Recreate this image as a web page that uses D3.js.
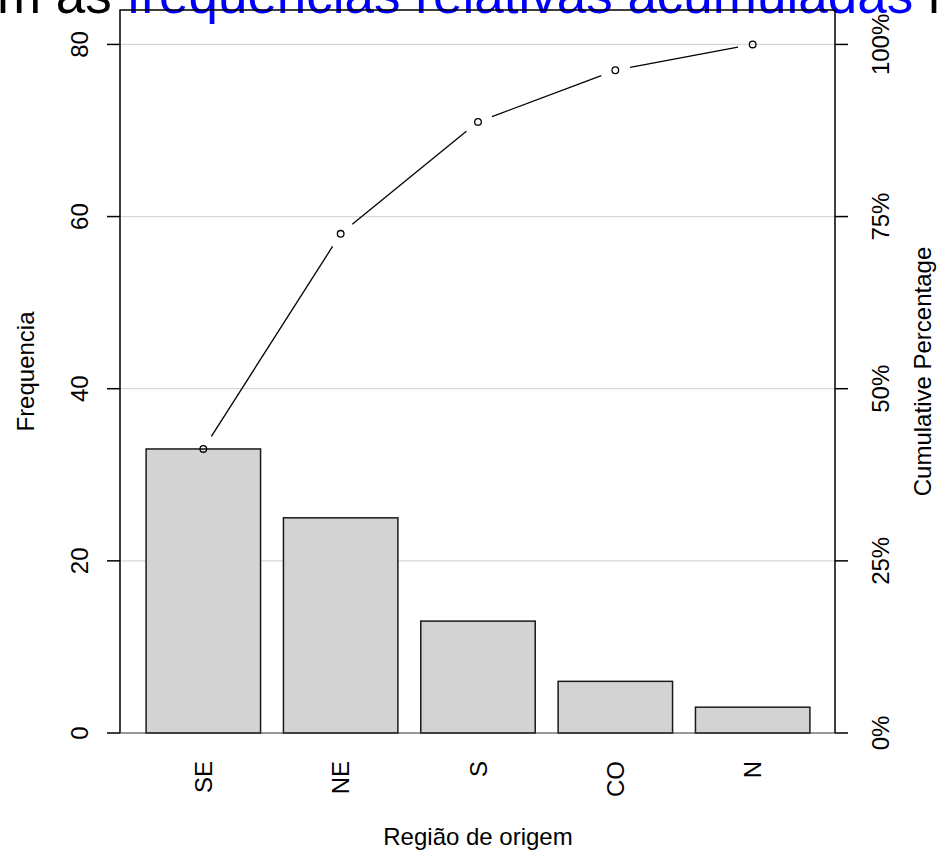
<!DOCTYPE html>
<html>
<head>
<meta charset="utf-8">
<script src="https://cdn.jsdelivr.net/npm/d3@7"></script>
<style>
  html, body { margin: 0; padding: 0; background: #fff; }
  svg { display: block; }
  text { font-family: "Liberation Sans", Arial, Helvetica, sans-serif; }
</style>
</head>
<body>
<svg id="chart" width="939" height="853"></svg>
<script>
const categories = ["SE", "NE", "S", "CO", "N"];
const frequencies = [33, 25, 13, 6, 3];
const cumulativeCounts = [33, 58, 71, 77, 80];
const leftTickValues = [0, 20, 40, 60, 80];
const rightTickValues = [0, 0.25, 0.5, 0.75, 1];
const rightTickLabels = ["0%", "25%", "50%", "75%", "100%"];
const titleBefore = "m as ";
const titleLink = "frequencias relativas acumuladas";
const titleAfter = " n";
const xLabel = "Região de origem";
const yLabel = "Frequencia";
const y2Label = "Cumulative Percentage";

const W = 939, H = 853;
const plot = { left: 120, right: 836, top: 10, bottom: 733 };
const total = 80;
const fs = 24;

const svg = d3.select("#chart");

const x = d3.scaleBand()
  .domain(categories)
  .range([plot.left, plot.right])
  .paddingInner(1 / 6)
  .paddingOuter(0.19);

const y = d3.scaleLinear().domain([0, total * 1.05]).range([plot.bottom, plot.top]);
const y2 = d3.scaleLinear().domain([0, 1]).range([y(0), y(total)]);

// Title (partially cropped at top)
const title = svg.append("text")
  .attr("x", -3)
  .attr("y", 13)
  .attr("font-size", 53)
  .attr("fill", "#000");
title.append("tspan").text(titleBefore);
title.append("tspan").attr("fill", "#0000ff").text(titleLink);
title.append("tspan").text(titleAfter);

// Gridlines
svg.append("g")
  .selectAll("line")
  .data(leftTickValues.filter(d => d > 0))
  .join("line")
  .attr("x1", plot.left).attr("x2", plot.right)
  .attr("y1", d => y(d)).attr("y2", d => y(d))
  .attr("stroke", "#d8d8d8")
  .attr("stroke-width", 1.3);

// Bars
svg.append("g")
  .selectAll("rect")
  .data(categories)
  .join("rect")
  .attr("x", d => x(d))
  .attr("width", x.bandwidth())
  .attr("y", (d, i) => y(frequencies[i]))
  .attr("height", (d, i) => y(0) - y(frequencies[i]))
  .attr("fill", "#d3d3d3")
  .attr("stroke", "#1a1a1a")
  .attr("stroke-width", 1.5);

// Cumulative line with gaps (type = "b")
const pts = categories.map((c, i) => [x(c) + x.bandwidth() / 2, y(cumulativeCounts[i])]);
const gap = 15;
const segs = [];
for (let i = 0; i < pts.length - 1; i++) {
  const [x0, y0] = pts[i], [x1, y1] = pts[i + 1];
  const dx = x1 - x0, dy = y1 - y0, len = Math.hypot(dx, dy);
  const ux = dx / len, uy = dy / len;
  segs.push([x0 + ux * gap, y0 + uy * gap, x1 - ux * gap, y1 - uy * gap]);
}
svg.append("g")
  .selectAll("line")
  .data(segs)
  .join("line")
  .attr("x1", d => d[0]).attr("y1", d => d[1])
  .attr("x2", d => d[2]).attr("y2", d => d[3])
  .attr("stroke", "#000")
  .attr("stroke-width", 1.3);

svg.append("g")
  .selectAll("circle")
  .data(pts)
  .join("circle")
  .attr("cx", d => d[0]).attr("cy", d => d[1])
  .attr("r", 3.3)
  .attr("fill", "none")
  .attr("stroke", "#000")
  .attr("stroke-width", 1.3);

// Box (left, top, right) and bottom baseline
svg.append("path")
  .attr("d", `M${plot.left},${plot.bottom}V${plot.top}H${plot.right - 1}V${plot.bottom}`)
  .attr("fill", "none")
  .attr("stroke", "#000")
  .attr("stroke-width", 1.5);

svg.append("line")
  .attr("x1", plot.left).attr("x2", plot.right - 1)
  .attr("y1", y(0)).attr("y2", y(0))
  .attr("stroke", "#333")
  .attr("stroke-width", 1.2);

// Left axis
const tickLen = 13;
const leftAxis = svg.append("g");
leftAxis.selectAll("line")
  .data(leftTickValues)
  .join("line")
  .attr("x1", plot.left - tickLen).attr("x2", plot.left)
  .attr("y1", d => y(d)).attr("y2", d => y(d))
  .attr("stroke", "#000").attr("stroke-width", 1.5);
leftAxis.selectAll("text")
  .data(leftTickValues)
  .join("text")
  .attr("transform", d => `translate(88,${y(d)}) rotate(-90)`)
  .attr("text-anchor", "middle")
  .attr("font-size", fs)
  .text(d => d);

// Right axis
const rightAxis = svg.append("g");
rightAxis.selectAll("line")
  .data(rightTickValues)
  .join("line")
  .attr("x1", plot.right - 1).attr("x2", plot.right - 1 + tickLen)
  .attr("y1", d => y2(d)).attr("y2", d => y2(d))
  .attr("stroke", "#000").attr("stroke-width", 1.5);
rightAxis.selectAll("text")
  .data(rightTickValues)
  .join("text")
  .attr("transform", d => `translate(889,${y2(d)}) rotate(-90)`)
  .attr("text-anchor", "middle")
  .attr("font-size", fs)
  .text((d, i) => rightTickLabels[i]);

// X tick labels (perpendicular)
svg.append("g")
  .selectAll("text")
  .data(categories)
  .join("text")
  .attr("transform", d => `translate(${x(d) + x.bandwidth() / 2 + 8.5},761) rotate(-90)`)
  .attr("text-anchor", "end")
  .attr("font-size", fs)
  .text(d => d);

// Axis titles
svg.append("text")
  .attr("x", (plot.left + plot.right) / 2)
  .attr("y", 845)
  .attr("text-anchor", "middle")
  .attr("font-size", fs)
  .text(xLabel);

svg.append("text")
  .attr("transform", `translate(34,${(plot.top + plot.bottom) / 2}) rotate(-90)`)
  .attr("text-anchor", "middle")
  .attr("font-size", fs)
  .text(yLabel);

svg.append("text")
  .attr("transform", `translate(931,${(plot.top + plot.bottom) / 2}) rotate(-90)`)
  .attr("text-anchor", "middle")
  .attr("font-size", fs)
  .text(y2Label);
</script>
</body>
</html>
